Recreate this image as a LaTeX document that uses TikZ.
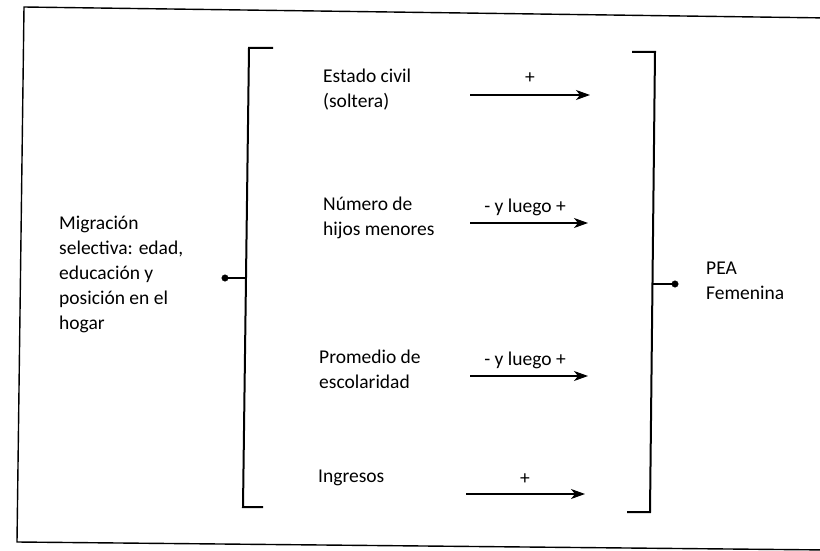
\documentclass[tikz,border=0pt]{standalone}
\usepackage{fontspec}
\setmainfont{Carlito}
\usetikzlibrary{arrows.meta}
\begin{document}
\begin{tikzpicture}[x=1pt,y=-1pt,
  txt/.style={inner sep=0pt, align=left, anchor=base west, font=\fontsize{19.5}{24.8}\selectfont},
  lbl/.style={inner sep=0pt, anchor=base, font=\fontsize{19.5}{24}\selectfont},
  brk/.style={line width=2pt},
  arr/.style={line width=1.1pt, -{Stealth[length=14pt,width=10pt,inset=4pt]}},
  dotc/.style={circle, fill=black, draw=black, inner sep=0pt, minimum size=6.5pt}]
\useasboundingbox (0,0) rectangle (820,551);
% outer frame (slightly skewed, as scanned)
\draw[line width=1.4pt] (830,18) -- (24,7) -- (17,542) -- (830,550);
% brackets
\coordinate (LT) at (249,48);
\coordinate (LB) at (243,507);
\coordinate (RT) at (655,52);
\coordinate (RB) at (650,512);
\draw[brk] ([xshift=24pt]LT) -- (LT) -- (LB) -- ([xshift=20pt]LB);
\draw[brk] ([xshift=-23pt]RT) -- (RT) -- (RB) -- ([xshift=-23pt]RB);
% left text and dot
\node[txt] (mig) at (59,329) {Migración\\selectiva: edad,\\educación y\\posición en el\\hogar};
\node[dotc] (dl) at (225,278) {};
\coordinate (bl) at (246,278);
\draw[line width=1.4pt] (dl) -- (bl);
% right text and dot
\node[dotc] (dr) at (675,284) {};
\coordinate (br) at (652,284);
\draw[line width=1.4pt] (br) -- (dr);
\node[txt] (pea) at (706,299.5) {PEA\\Femenina};
% items
\node[txt] (est) at (323,107.5) {Estado civil\\(soltera)};
\node[txt] (num) at (323,235) {Número de\\hijos menores};
\node[txt] (pro) at (319,388) {Promedio de\\escolaridad};
\node[txt] (ing) at (318,482) {Ingresos};
% arrows
\coordinate (a1s) at (470,95);  \coordinate (a1e) at (590,95);
\coordinate (a2s) at (470,223); \coordinate (a2e) at (588,223);
\coordinate (a3s) at (470,376); \coordinate (a3e) at (588,376);
\coordinate (a4s) at (466,494); \coordinate (a4e) at (585,494);
\draw[arr] (a1s) -- (a1e);
\draw[arr] (a2s) -- (a2e);
\draw[arr] (a3s) -- (a3e);
\draw[arr] (a4s) -- (a4e);
\node[lbl] (l1) at (530,84) {+};
\node[lbl] (l2) at (525,212) {- y luego +};
\node[lbl] (l3) at (525,365) {- y luego +};
\node[lbl] (l4) at (525,484) {+};
\end{tikzpicture}
\end{document}
